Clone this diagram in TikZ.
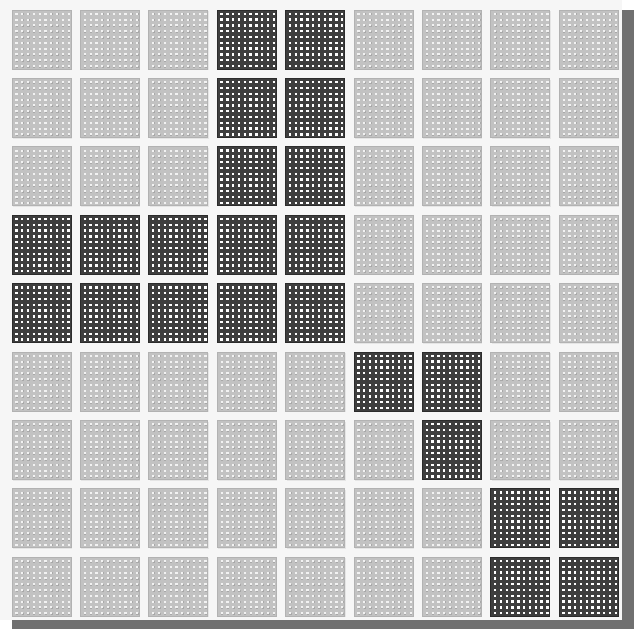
\documentclass[tikz,border=0pt]{standalone}
\definecolor{bgpanel}{HTML}{F6F6F6}
\definecolor{shadowc}{HTML}{707070}
\definecolor{lightfill}{HTML}{C2C2C2}
\definecolor{lightedge}{HTML}{B2B2B2}
\definecolor{darkfill}{HTML}{3E3E3E}
\definecolor{darkedge}{HTML}{2C2C2C}
\definecolor{dotlight}{HTML}{F2F2F2}
\definecolor{dotshade}{HTML}{A8A8A8}
\tikzset{
  lighttile/.style={fill=lightfill, draw=lightedge, line width=0.8pt},
  darktile/.style={fill=darkfill, draw=darkedge, line width=0.8pt},
  dotrows/.style={draw=white, line width=2.3pt, dash pattern=on 2.3pt off 3.5pt},
  lightdotrows/.style={draw=dotlight, line width=2.1pt, dash pattern=on 2.1pt off 3.7pt},
  lightdotshade/.style={draw=dotshade, line width=2.1pt, dash pattern=on 2.1pt off 3.7pt},
}
\begin{document}
\begin{tikzpicture}[x=1pt,y=-1pt]
\useasboundingbox (0,0) rectangle (634,629);
\fill[shadowc] (12,10) rectangle (634,629);
\fill[bgpanel] (0,0) rectangle (622,620);
\foreach \r/\c/\d in {
0/0/0,0/1/0,0/2/0,0/3/1,0/4/1,0/5/0,0/6/0,0/7/0,0/8/0,
1/0/0,1/1/0,1/2/0,1/3/1,1/4/1,1/5/0,1/6/0,1/7/0,1/8/0,
2/0/0,2/1/0,2/2/0,2/3/1,2/4/1,2/5/0,2/6/0,2/7/0,2/8/0,
3/0/1,3/1/1,3/2/1,3/3/1,3/4/1,3/5/0,3/6/0,3/7/0,3/8/0,
4/0/1,4/1/1,4/2/1,4/3/1,4/4/1,4/5/0,4/6/0,4/7/0,4/8/0,
5/0/0,5/1/0,5/2/0,5/3/0,5/4/0,5/5/1,5/6/1,5/7/0,5/8/0,
6/0/0,6/1/0,6/2/0,6/3/0,6/4/0,6/5/0,6/6/1,6/7/0,6/8/0,
7/0/0,7/1/0,7/2/0,7/3/0,7/4/0,7/5/0,7/6/0,7/7/1,7/8/1,
8/0/0,8/1/0,8/2/0,8/3/0,8/4/0,8/5/0,8/6/0,8/7/1,8/8/1}{
  \pgfmathsetmacro{\xo}{12+68.4*\c}
  \pgfmathsetmacro{\yo}{10+68.4*\r}
  \ifnum\d=1
    \draw[darktile] (\xo,\yo) rectangle ++(59,59);
    \draw[dotrows]
      \foreach \j in {0,...,9}{ (\xo+3.25,\yo+3.8+5.8*\j) -- ++(54.5,0) };
  \else
    \fill[black!10] (\xo+1,\yo+1.2) rectangle ++(59,59);
    \draw[lighttile] (\xo,\yo) rectangle ++(59,59);
    \draw[lightdotshade]
      \foreach \j in {0,...,9}{ (\xo+3.85,\yo+4.4+5.8*\j) -- ++(54.5,0) };
    \draw[lightdotrows]
      \foreach \j in {0,...,9}{ (\xo+3.45,\yo+3.8+5.8*\j) -- ++(54.3,0) };
  \fi
}
\end{tikzpicture}
\end{document}
